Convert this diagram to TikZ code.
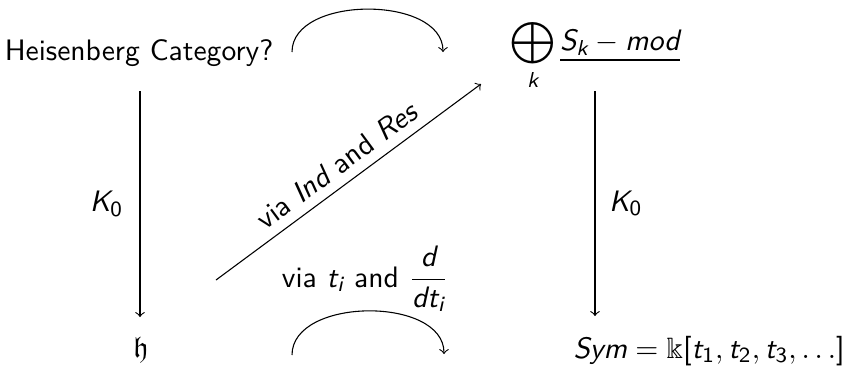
\documentclass[tikz,border=0pt]{standalone}
\usepackage{amsmath,amssymb}
\newcommand{\ms}[1]{\text{\sffamily\slshape #1}}
\newcommand{\mup}[1]{\text{\sffamily\upshape #1}}
\begin{document}
\begin{tikzpicture}[x=0.37pt,y=-0.37pt,
  every node/.style={font=\fontsize{10.95}{13}\selectfont\sffamily, inner sep=0pt},
  arr/.style={->}]
\useasboundingbox (0,0) rectangle (845,369);
% objects
\node[anchor=base] (H) at (139,60) {Heisenberg Category?};
\node (S) at (595,55) {$\displaystyle\bigoplus_{\ms{k}}\underline{\ms{S}_{\ms{k}} - \ms{mod}}$};
\node (h) at (141,350) {$\mathfrak{h}$};
\node[anchor=base west] (Sym) at (573,358) {$\ms{Sym} = \Bbbk\mathopen{\mup{[}}\ms{t}_{\mup{1}}, \ms{t}_{\mup{2}}, \ms{t}_{\mup{3}}, \dots\mathclose{\mup{]}}$};
% vertical arrows
\draw[arr] (140,91) coordinate (L1) -- node[left=6pt] (KL) {$\ms{K}_{\mup{0}}$} (140,317) coordinate (L2);
\draw[arr] (S |- 0,91) -- node[right=5pt] (KR) {$\ms{K}_{\mup{0}}$} (S |- 0,316);
% diagonal arrow
\coordinate (d1) at (216,280);
\coordinate (d2) at (481,84);
\draw[arr] (d1) -- node[midway,sloped,above=3.5pt] (VI) {via $\ms{Ind}$ and $\ms{Res}$} (d2);
% curved arrows
\coordinate (t1) at (292,52);
\coordinate (t2) at (443,52);
\draw[arr] (t1) .. controls +(0,-57) and +(0,-57) .. (t2);
\coordinate (b1) at (292,355);
\coordinate (b2) at (444,354);
\draw[arr] (b1) .. controls +(0,-58) and +(0,-58) .. (b2);
\node[anchor=base] (VT) at (365,287) {via $\ms{t}_{\ms{i}}$ and $\dfrac{\ms{d}}{\ms{dt}_{\ms{i}}}$};
\end{tikzpicture}
\end{document}
